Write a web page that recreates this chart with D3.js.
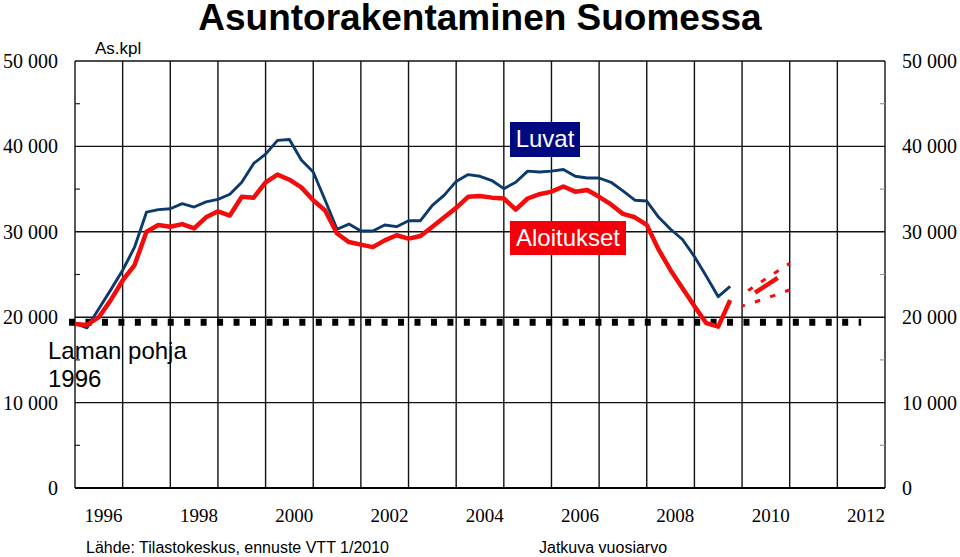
<!DOCTYPE html>
<html>
<head>
<meta charset="utf-8">
<script src="https://cdn.jsdelivr.net/npm/d3@7"></script>
<style>
    body { margin: 0; background: #ffffff; }
    svg { display: block; }
</style>
</head>
<body>
<div id="chart"></div>
<script>

// neljännesvuosittaiset arvot, alkaen 1996 Q1 (jatkuva vuosiarvo)
var startYear = 1996;

var luvat = [
    19300, 18750, 21000, 23200, 25500, 28200, 32300, 32600, 32700, 33300,
    32900, 33500, 33800, 34400, 35800, 38000, 39100, 40700, 40800, 38400,
    37000, 33700, 30300, 30900, 30100, 30100, 30800, 30600, 31300, 31300,
    33100, 34300, 35900, 36700, 36500, 36000, 35050, 35800, 37100, 37000,
    37100, 37300, 36500, 36300, 36300, 35800, 34800, 33700, 33600, 31700,
    30300, 29100, 27100, 24800, 22400, 23600
];

var aloitukset = [
    19200, 19100, 20000, 22000, 24300, 26100, 30000, 30800, 30600, 30900,
    30400, 31700, 32400, 31900, 34100, 34000, 35800, 36700, 36100, 35200,
    33700, 32500, 29800, 28800, 28500, 28200, 29000, 29600, 29200, 29500,
    30600, 31700, 32800, 34100, 34200, 34000, 33900, 32600, 33900, 34400,
    34700, 35300, 34700, 34900, 34100, 33200, 32100, 31700, 30800, 27900,
    25500, 23400, 21300, 19300, 18900, 22000
];

// ennuste 2010 (VTT), alkaen 2010 Q1
var ennusteStart = 2010;
var ennuste = [ 22000, 22800, 23700, 24600 ];
var ennusteYla = [ 22600, 23600, 24500, 25400, 26300 ];
var ennusteAla = [ 21300, 21750, 22200, 22700, 23200 ];

// laman pohja 1996
var pohja = 19400;
var pohjaRange = [ 1995.875, 2012.5 ];

var years = d3.range( 1996, 2014 );
var yearLabels = [ 1996, 1998, 2000, 2002, 2004, 2006, 2008, 2010, 2012 ];
var yTicks = [ 0, 10000, 20000, 30000, 40000, 50000 ];
var yMinor = [ 5000, 15000, 25000, 35000, 45000 ];

var width = 960,
    height = 557;

var plotLeft = 75,
    plotRight = 885,
    plotTop = 61,
    plotBottom = 488;

var svg = d3.select('#chart').append('svg')
    .attr('width', width)
    .attr('height', height)
    .style('font-family', 'Liberation Sans, Arial, sans-serif');

var x = d3.scaleLinear()
    .domain([ 1996, 2013 ])
    .range([ plotLeft, plotRight ]);

var y = d3.scaleLinear()
    .domain([ 0, 50000 ])
    .range([ plotBottom, plotTop ]);

var fmt = function ( v ) {

    return d3.format(',')( v ).replace( /,/g, ' ' );

};

function quarterly ( values, from ) {

    return values.map( function ( v, i ) {

        return { t: from + i / 4, v: v };

    });

}

var line = d3.line()
    .x( function ( d ) { return x( d.t ) } )
    .y( function ( d ) { return y( d.v ) } );

/* grid */

var grid = svg.append('g');

grid.selectAll('.vgrid')
    .data( years )
    .enter().append('line')
    .attr('x1', function ( d ) { return x( d ) })
    .attr('x2', function ( d ) { return x( d ) })
    .attr('y1', y( 50000 ))
    .attr('y2', y( 0 ))
    .attr('stroke', '#111')
    .attr('stroke-width', 1.4);

grid.selectAll('.hgrid')
    .data( yTicks.slice( 1 ) )
    .enter().append('line')
    .attr('x1', plotLeft)
    .attr('x2', plotRight)
    .attr('y1', function ( d ) { return y( d ) })
    .attr('y2', function ( d ) { return y( d ) })
    .attr('stroke', '#111')
    .attr('stroke-width', 1.4);

grid.append('line')
    .attr('x1', plotLeft)
    .attr('x2', plotRight)
    .attr('y1', y( 0 ))
    .attr('y2', y( 0 ))
    .attr('stroke', '#000')
    .attr('stroke-width', 2.2);

grid.selectAll('.minorL')
    .data( yMinor )
    .enter().append('line')
    .attr('x1', plotLeft)
    .attr('x2', plotLeft + 5)
    .attr('y1', function ( d ) { return y( d ) })
    .attr('y2', function ( d ) { return y( d ) })
    .attr('stroke', '#222')
    .attr('stroke-width', 1.2);

grid.selectAll('.minorR')
    .data( yMinor )
    .enter().append('line')
    .attr('x1', plotRight - 5)
    .attr('x2', plotRight)
    .attr('y1', function ( d ) { return y( d ) })
    .attr('y2', function ( d ) { return y( d ) })
    .attr('stroke', '#999')
    .attr('stroke-width', 1.2);

/* axis labels */

svg.selectAll('.ylabL')
    .data( yTicks )
    .enter().append('text')
    .attr('x', 58)
    .attr('y', function ( d ) { return y( d ) })
    .attr('dy', '0.35em')
    .attr('text-anchor', 'end')
    .style('font-family', 'Liberation Serif, Times New Roman, serif')
    .style('font-size', '20px')
    .text( fmt );

svg.selectAll('.ylabR')
    .data( yTicks )
    .enter().append('text')
    .attr('x', 902)
    .attr('y', function ( d ) { return y( d ) })
    .attr('dy', '0.35em')
    .style('font-family', 'Liberation Serif, Times New Roman, serif')
    .style('font-size', '20px')
    .text( fmt );

svg.selectAll('.xlab')
    .data( yearLabels )
    .enter().append('text')
    .attr('x', function ( d ) { return x( d + 0.6 ) })
    .attr('y', 522)
    .attr('text-anchor', 'middle')
    .style('font-family', 'Liberation Serif, Times New Roman, serif')
    .style('font-size', '19px')
    .text( function ( d ) { return d } );

/* laman pohja */

svg.append('line')
    .attr('x1', x( pohjaRange[ 0 ] ))
    .attr('x2', x( pohjaRange[ 1 ] ))
    .attr('y1', y( pohja ))
    .attr('y2', y( pohja ))
    .attr('stroke', '#000')
    .attr('stroke-width', 7)
    .attr('stroke-dasharray', '6,10.45');

/* series */

svg.append('path')
    .datum( quarterly( luvat, startYear ) )
    .attr('d', line)
    .attr('fill', 'none')
    .attr('stroke', '#0c3a6c')
    .attr('stroke-width', 2.9)
    .attr('stroke-linejoin', 'round');

svg.append('path')
    .datum( quarterly( aloitukset, startYear ) )
    .attr('d', line)
    .attr('fill', 'none')
    .attr('stroke', '#f20c0c')
    .attr('stroke-width', 4.5)
    .attr('stroke-linejoin', 'round');

svg.append('path')
    .datum( quarterly( ennuste, ennusteStart ) )
    .attr('d', line)
    .attr('fill', 'none')
    .attr('stroke', '#f20c0c')
    .attr('stroke-width', 4.5)
    .attr('stroke-dasharray', '0,15,27,100');

svg.append('path')
    .datum( quarterly( ennusteYla, ennusteStart ) )
    .attr('d', line)
    .attr('fill', 'none')
    .attr('stroke', '#f20c0c')
    .attr('stroke-width', 3)
    .attr('stroke-dasharray', '5.5,10')
    .attr('stroke-dashoffset', 8);

svg.append('path')
    .datum( quarterly( ennusteAla, ennusteStart ) )
    .attr('d', line)
    .attr('fill', 'none')
    .attr('stroke', '#f20c0c')
    .attr('stroke-width', 3)
    .attr('stroke-dasharray', '5.5,10.5')
    .attr('stroke-dashoffset', 2.5);

/* labels */

svg.append('rect')
    .attr('x', 510)
    .attr('y', 122)
    .attr('width', 70)
    .attr('height', 35)
    .attr('fill', '#000a80');

svg.append('text')
    .attr('x', 545)
    .attr('y', 147)
    .attr('text-anchor', 'middle')
    .attr('fill', '#ffffff')
    .style('font-size', '24px')
    .text('Luvat');

svg.append('rect')
    .attr('x', 510)
    .attr('y', 221)
    .attr('width', 116)
    .attr('height', 34)
    .attr('fill', '#f5000a');

svg.append('text')
    .attr('x', 568)
    .attr('y', 246)
    .attr('text-anchor', 'middle')
    .attr('fill', '#ffffff')
    .style('font-size', '24px')
    .text('Aloitukset');

svg.append('text')
    .attr('x', 480)
    .attr('y', 30)
    .attr('text-anchor', 'middle')
    .style('font-size', '37px')
    .style('font-weight', 'bold')
    .text('Asuntorakentaminen Suomessa');

svg.append('text')
    .attr('x', 95)
    .attr('y', 54)
    .style('font-size', '17px')
    .text('As.kpl');

svg.append('text')
    .attr('x', 48)
    .attr('y', 359)
    .style('font-size', '24px')
    .text('Laman pohja');

svg.append('text')
    .attr('x', 48)
    .attr('y', 387)
    .style('font-size', '24px')
    .text('1996');

svg.append('text')
    .attr('x', 86)
    .attr('y', 553)
    .style('font-size', '16px')
    .text('Lähde: Tilastokeskus, ennuste VTT 1/2010');

svg.append('text')
    .attr('x', 539)
    .attr('y', 553)
    .style('font-size', '16px')
    .text('Jatkuva vuosiarvo');

</script>
</body>
</html>
